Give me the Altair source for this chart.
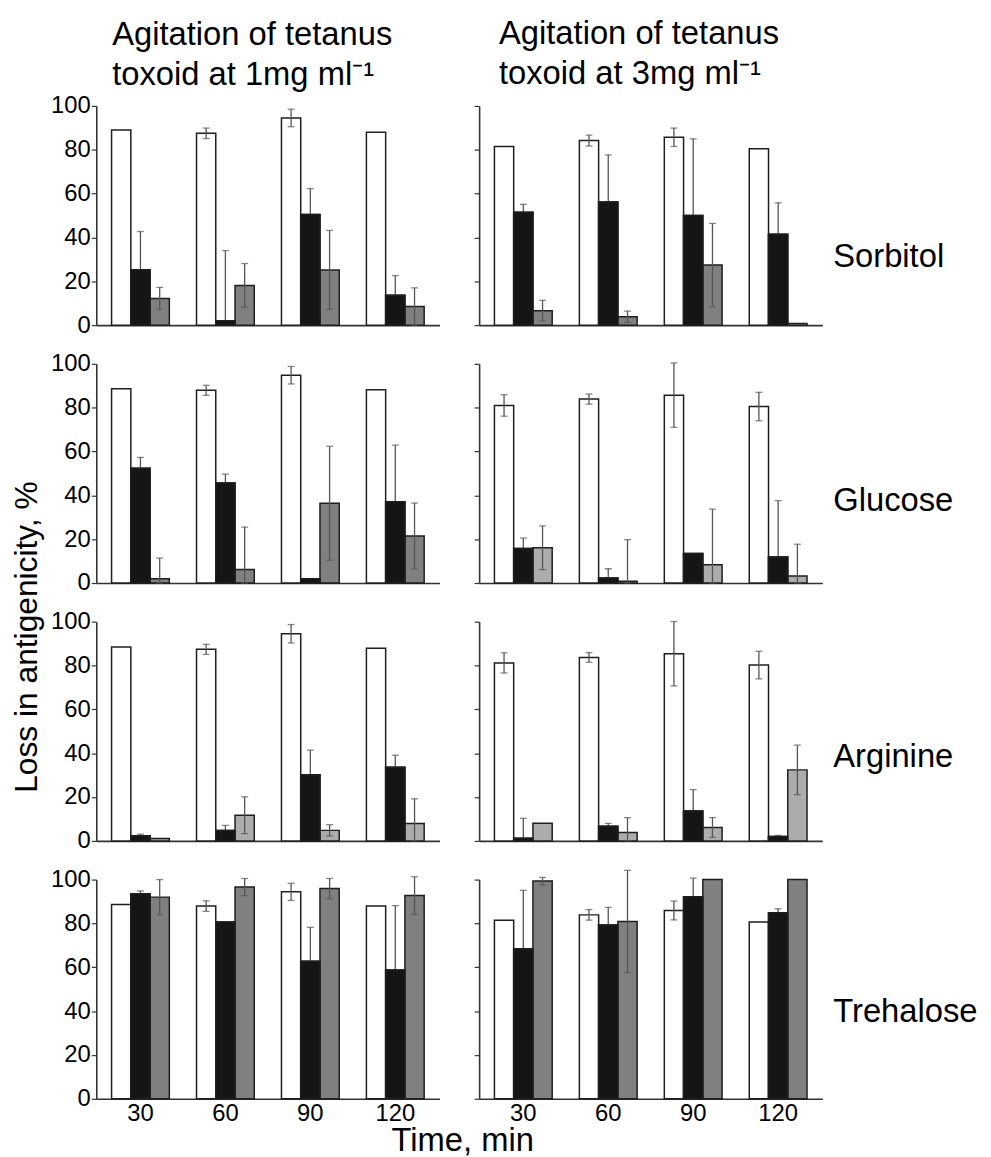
import altair as alt
import pandas as pd

FONT = "Liberation Sans, Arial, Helvetica, sans-serif"

TIMES = ["30", "60", "90", "120"]
SERIES = ["white", "black", "gray"]
EXCIPIENTS = ["Sorbitol", "Glucose", "Arginine", "Trehalose"]
CONCS = ["1mg", "3mg"]
COLUMN_TITLES = {
    "1mg": ["Agitation of tetanus", "toxoid at 1mg ml\u207b\u00b9"],
    "3mg": ["Agitation of tetanus", "toxoid at 3mg ml\u207b\u00b9"],
}
Y_TITLE = "Loss in antigenicity, %"
X_TITLE = "Time, min"

# values: rows = white, black, gray bars; columns = 30, 60, 90, 120 min
SORBITOL_1MG = [[89.0, 87.5, 94.5, 88.0], [25.3, 2.0, 50.5, 13.6], [12.2, 18.1, 25.2, 8.5]]
SORBITOL_1MG_ERR = [[0.0, 2.4, 4.0, 0.0], [17.4, 32.0, 11.8, 9.0], [5.0, 10.0, 18.0, 8.5]]
SORBITOL_3MG = [[81.5, 84.2, 85.7, 80.5], [51.5, 56.2, 50.0, 41.5], [6.6, 3.8, 27.4, 0.8]]
SORBITOL_3MG_ERR = [[0.0, 2.5, 4.2, 0.0], [3.6, 21.5, 35.0, 14.3], [4.7, 2.6, 19.0, 0.0]]

GLUCOSE_1MG = [[88.6, 87.9, 94.8, 88.2], [52.4, 45.6, 2.0, 37.1], [2.0, 6.2, 36.4, 21.5]]
GLUCOSE_1MG_ERR = [[0.0, 2.3, 4.0, 0.0], [4.9, 4.1, 0.0, 25.8], [9.4, 19.3, 26.0, 15.0]]
GLUCOSE_3MG = [[81.0, 83.9, 85.7, 80.5], [15.8, 2.3, 13.5, 11.9], [16.1, 0.8, 8.3, 3.2]]
GLUCOSE_3MG_ERR = [[4.9, 2.3, 14.7, 6.5], [4.7, 4.2, 0.0, 25.7], [10.0, 19.0, 25.4, 14.5]]

ARGININE_1MG = [[88.5, 87.4, 94.5, 87.9], [2.3, 4.8, 30.2, 33.6], [1.1, 11.7, 4.8, 7.9]]
ARGININE_1MG_ERR = [[0.0, 2.3, 4.2, 0.0], [0.8, 2.3, 11.2, 5.5], [0.0, 8.4, 2.6, 11.3]]
ARGININE_3MG = [[81.2, 83.7, 85.4, 80.2], [1.2, 6.7, 13.7, 2.0], [8.0, 3.8, 6.1, 32.4]]
ARGININE_3MG_ERR = [[4.6, 2.2, 14.7, 6.3], [9.1, 1.3, 9.7, 0.5], [0.0, 6.8, 4.5, 11.3]]

TREHALOSE_1MG = [[88.6, 87.9, 94.4, 87.9], [93.5, 80.7, 62.7, 58.7], [92.0, 96.6, 95.9, 92.7]]
TREHALOSE_1MG_ERR = [[0.0, 2.4, 3.9, 0.0], [1.3, 0.0, 15.5, 29.4], [8.0, 3.9, 4.6, 8.6]]
TREHALOSE_3MG = [[81.5, 83.9, 85.9, 80.6], [68.5, 79.3, 92.2, 84.9], [99.3, 80.9, 100.0, 100.0]]
TREHALOSE_3MG_ERR = [[0.0, 2.4, 4.3, 0.0], [26.6, 8.0, 8.5, 1.8], [1.7, 23.3, 0.0, 0.0]]

PANELS = {
    ("Sorbitol", "1mg"): (SORBITOL_1MG, SORBITOL_1MG_ERR),
    ("Sorbitol", "3mg"): (SORBITOL_3MG, SORBITOL_3MG_ERR),
    ("Glucose", "1mg"): (GLUCOSE_1MG, GLUCOSE_1MG_ERR),
    ("Glucose", "3mg"): (GLUCOSE_3MG, GLUCOSE_3MG_ERR),
    ("Arginine", "1mg"): (ARGININE_1MG, ARGININE_1MG_ERR),
    ("Arginine", "3mg"): (ARGININE_3MG, ARGININE_3MG_ERR),
    ("Trehalose", "1mg"): (TREHALOSE_1MG, TREHALOSE_1MG_ERR),
    ("Trehalose", "3mg"): (TREHALOSE_3MG, TREHALOSE_3MG_ERR),
}

# style: panels whose third bar is drawn in a lighter grey
LIGHT_GREY_PANELS = {("Glucose", "3mg"), ("Arginine", "1mg"), ("Arginine", "3mg")}
SHADE_DOMAIN = ["white", "black", "gray", "lightgray"]
SHADE_RANGE = ["#ffffff", "#151515", "#808080", "#acacac"]

W = 346
H = 221
ROW_LABEL_Y = [152, 138, 136, 134]
TITLE_OFFSET = {"1mg": -31, "3mg": -18}
TITLE_DX = {"1mg": 16, "3mg": 20}


def panel_frame(exc, conc):
    vals, errs = PANELS[(exc, conc)]
    rows = []
    for si, s in enumerate(SERIES):
        for ti, t in enumerate(TIMES):
            v = vals[si][ti]
            e = errs[si][ti]
            shade = s
            if s == "gray" and (exc, conc) in LIGHT_GREY_PANELS:
                shade = "lightgray"
            rows.append({"time": t, "series": s, "value": v, "err": e,
                         "lo": max(0.0, v - e), "hi": v + e, "shade": shade})
    return pd.DataFrame(rows)


def make_panel(exc, conc, ri):
    d = panel_frame(exc, conc)
    left = conc == "1mg"
    bottom = ri == len(EXCIPIENTS) - 1

    if bottom:
        xaxis = alt.Axis(labelFontSize=24, labelFont=FONT, labelColor="#000", ticks=False,
                         labelPadding=3, labelAngle=0, domainColor="#333", domainWidth=1.6,
                         title=X_TITLE if left else None,
                         titleFontSize=33, titleFont=FONT, titleFontWeight="normal",
                         titleColor="#000", titleX=369, titleY=52, titleAlign="center",
                         titleBaseline="alphabetic")
    else:
        xaxis = alt.Axis(labels=False, ticks=False, domainColor="#333", domainWidth=1.6, title=None)

    yaxis_kw = dict(values=[0, 20, 40, 60, 80, 100], tickSize=5, tickColor="#333",
                    tickWidth=1.2, domainColor="#333", domainWidth=1.6, grid=False)
    if left:
        yaxis_kw.update(labelFontSize=24, labelFont=FONT, labelColor="#000", labelPadding=1)
        if ri == 1:
            yaxis_kw.update(title=Y_TITLE, titleFontSize=32, titleFont=FONT,
                            titleFontWeight="normal", titleColor="#000", titleAngle=-90,
                            titleX=-60, titleY=275, titleAlign="center",
                            titleBaseline="alphabetic")
        else:
            yaxis_kw.update(title=None)
    else:
        yaxis_kw.update(labels=False, title=None)
    yaxis = alt.Axis(**yaxis_kw)

    base = alt.Chart(d).encode(
        x=alt.X("time:N", sort=TIMES, axis=xaxis,
                scale=alt.Scale(paddingInner=0.32, paddingOuter=0.18)),
        xOffset=alt.XOffset("series:N", sort=SERIES,
                            scale=alt.Scale(paddingInner=0, paddingOuter=0)),
    )
    yscale = alt.Scale(domain=[0, 100], nice=False)
    bars = base.mark_bar(stroke="#1e1e1e", strokeWidth=1.5).encode(
        y=alt.Y("value:Q", scale=yscale, axis=yaxis),
        color=alt.Color("shade:N", scale=alt.Scale(domain=SHADE_DOMAIN, range=SHADE_RANGE),
                        legend=None),
    )
    with_err = base.transform_filter("datum.err > 0")
    rules = with_err.mark_rule(color="#555555", strokeWidth=1.3).encode(
        y=alt.Y("lo:Q", scale=yscale), y2="hi:Q")
    cap_hi = with_err.mark_tick(color="#555555", size=7, thickness=1.3,
                                orient="horizontal").encode(y=alt.Y("hi:Q", scale=yscale))
    cap_lo = with_err.mark_tick(color="#555555", size=7, thickness=1.3,
                                orient="horizontal").encode(y=alt.Y("lo:Q", scale=yscale))
    black_over = bars.transform_filter("datum.series == 'black'")

    layers = [bars, rules, cap_hi, cap_lo, black_over]
    if not left:
        label = alt.Chart(pd.DataFrame({"label": [exc]})).mark_text(
            align="left", baseline="middle", fontSize=33, font=FONT, color="#000"
        ).encode(text="label:N", x=alt.value(W + 11), y=alt.value(ROW_LABEL_Y[ri]))
        layers.append(label)

    props = dict(width=W, height=H)
    if ri == 0:
        props["title"] = alt.TitleParams(COLUMN_TITLES[conc], fontSize=33, font=FONT,
                                         fontWeight="normal", color="#000", anchor="start",
                                         frame="group", dx=TITLE_DX[conc],
                                         offset=TITLE_OFFSET[conc], lineHeight=40,
                                         baseline="bottom")
    return alt.layer(*layers).properties(**props)


panels = []
for ri, exc in enumerate(EXCIPIENTS):
    for c in CONCS:
        panels.append(make_panel(exc, c, ri))

chart = alt.concat(*panels, columns=2, spacing={"row": 39, "column": 40},
                   bounds="flush").properties(
    padding={"left": 3, "top": 5, "right": 5, "bottom": 0}
).configure_view(stroke=None)

chart.save("out.html", embed_options={"renderer": "svg", "actions": False})
